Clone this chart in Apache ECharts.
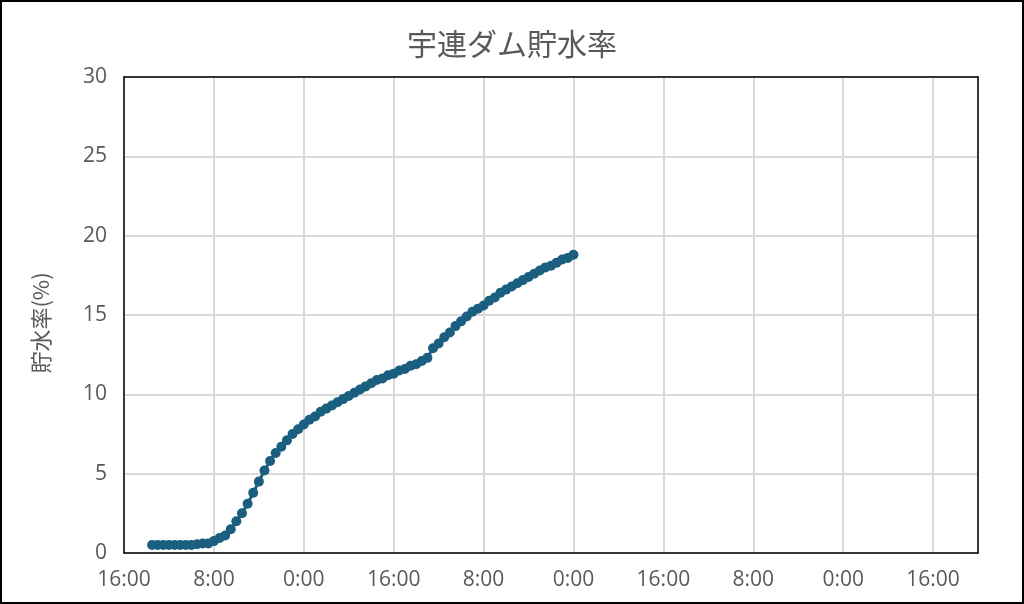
<!DOCTYPE html>
<html>
<head>
<meta charset="utf-8">
<script src="https://cdn.jsdelivr.net/npm/echarts@6/dist/echarts.min.js"></script>
<style>
html,body{margin:0;padding:0;background:#fff;}
#c{width:1024px;height:604px;box-sizing:border-box;border:2px solid #000;}
</style>
</head>
<body>
<div id="c"></div>
<script>
// Chart title and axis name
const titleText = '宇連ダム貯水率';
const yAxisName = '貯水率(%)';
// x tick labels every 16 hours, starting 16:00 (axis origin = 0 h)
const xTickLabels = ['16:00','8:00','0:00','16:00','8:00','0:00','16:00','8:00','0:00','16:00'];
// first sample at 21:00 (5 h after axis origin), hourly samples
const firstSampleHour = 5;
// storage rate (%) hourly
const storageRate = [
  0.5,0.5,0.5,0.5,0.5,0.5,0.5,0.5,0.55,0.6,
  0.6,0.75,0.95,1.1,1.5,2.0,2.5,3.1,3.8,4.5,
  5.2,5.8,6.3,6.7,7.1,7.5,7.8,8.1,8.4,8.6,
  8.9,9.1,9.3,9.5,9.7,9.9,10.1,10.3,10.5,10.7,
  10.9,11.0,11.2,11.3,11.5,11.6,11.8,11.9,12.1,12.3,
  12.9,13.2,13.6,13.9,14.3,14.6,14.9,15.2,15.4,15.6,
  15.9,16.1,16.4,16.6,16.8,17.0,17.2,17.4,17.6,17.8,
  18.0,18.1,18.3,18.5,18.6,18.8
];
const yTicks = [0,5,10,15,20,25,30];

const seriesData = storageRate.map((v,i)=>[firstSampleHour + i, v]);

const chart = echarts.init(document.getElementById('c'));
const txt = '#595959';
const frame = {show:true, onZero:false, lineStyle:{color:'#000', width:1.5}};
chart.setOption({
  animation:false,
  backgroundColor:'#fff',
  title:{
    text:titleText, left:'center', top:22,
    textStyle:{fontFamily:'Noto Sans CJK JP', fontSize:30, fontWeight:'normal', color:txt}
  },
  grid:{left:122, top:75, right:44, bottom:49},
  xAxis:[{
    type:'value', min:0, max:152, interval:16, position:'bottom',
    axisLine:frame, axisTick:{show:false},
    splitLine:{show:true, lineStyle:{color:'#d9d9d9', width:2}},
    axisLabel:{
      showMaxLabel:false, margin:17,
      fontFamily:'Open Sans', fontSize:21, color:txt,
      formatter:(v)=>{ const k=Math.round(v/16); return (v%16===0 && xTickLabels[k]) ? xTickLabels[k] : ''; }
    }
  },{
    type:'value', min:0, max:152, position:'top',
    axisLine:frame, axisTick:{show:false}, axisLabel:{show:false}, splitLine:{show:false}
  }],
  yAxis:[{
    type:'value', min:yTicks[0], max:yTicks[yTicks.length-1], interval:5, position:'left',
    name:yAxisName, nameLocation:'middle', nameGap:72, nameRotate:90,
    nameTextStyle:{fontFamily:'Noto Sans CJK JP', fontSize:22, color:txt, padding:[0,16,0,0]},
    axisLine:frame, axisTick:{show:false},
    splitLine:{show:true, lineStyle:{color:'#d9d9d9', width:2}},
    axisLabel:{margin:17, fontFamily:'Open Sans', fontSize:21, color:txt}
  },{
    type:'value', min:0, max:30, position:'right',
    axisLine:frame, axisTick:{show:false}, axisLabel:{show:false}, splitLine:{show:false}
  }],
  series:[{
    type:'line', data:seriesData, xAxisIndex:0, yAxisIndex:0,
    symbol:'circle', symbolSize:10,
    itemStyle:{color:'#1a5f80'},
    lineStyle:{color:'#1a5f80', width:3},
    z:5
  }]
});
</script>
</body>
</html>
